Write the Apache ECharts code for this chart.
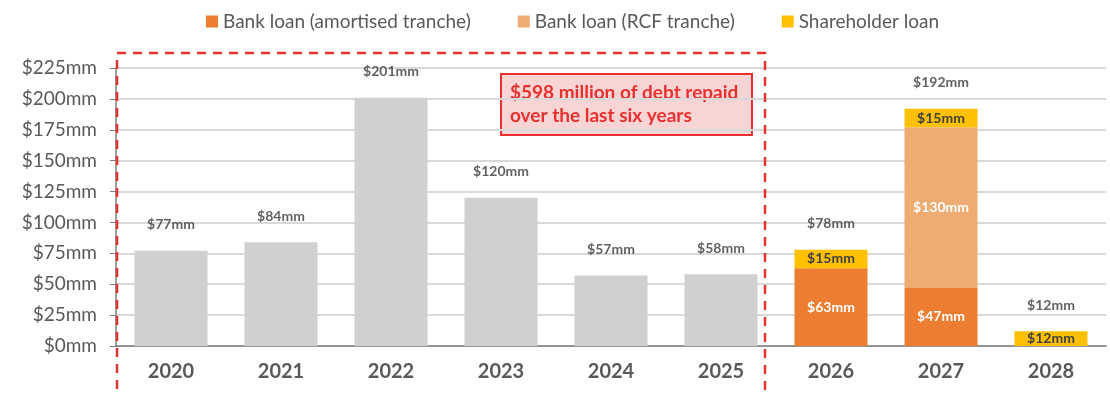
<!DOCTYPE html>
<html>
<head>
<meta charset="utf-8">
<script src="https://cdn.jsdelivr.net/npm/echarts@6/dist/echarts.min.js"></script>
<style>
  html, body { margin: 0; padding: 0; background: #fff; }
  #chart { width: 1110px; height: 395px; }
</style>
</head>
<body>
<div id="chart"></div>
<script>
// Debt repayments by year: historical totals and scheduled maturities ($mm)
const years = ['2020', '2021', '2022', '2023', '2024', '2025', '2026', '2027', '2028'];
const repaid = [77, 84, 201, 120, 57, 58, null, null, null];
const amortised = [null, null, null, null, null, null, 63, 47, null];
const rcf = [null, null, null, null, null, null, null, 130, null];
const shareholder = [null, null, null, null, null, null, 15, 15, 12];
const totals = [77, 84, 201, 120, 57, 58, 78, 192, 12];
const yTicks = [0, 25, 50, 75, 100, 125, 150, 175, 200, 225];

const FONT = 'Lato, "Noto Sans", sans-serif';
const fmt = v => '$' + v + 'mm';

const chart = echarts.init(document.getElementById('chart'));

const insideLabel = color => ({
  show: true,
  position: 'inside',
  color: color,
  fontFamily: FONT,
  fontSize: 14,
  fontWeight: 'bold',
  formatter: p => fmt(p.value)
});

chart.setOption({
  animation: false,
  textStyle: { fontFamily: FONT },
  legend: {
    top: 7,
    left: 201,
    itemWidth: 12,
    itemHeight: 12,
    itemGap: 47,
    icon: 'rect',
    textStyle: { color: '#595959', fontSize: 19, fontFamily: FONT },
    data: ['Bank loan (amortised tranche)', 'Bank loan (RCF tranche)', 'Shareholder loan']
  },
  grid: { left: 116, right: 4, top: 68, bottom: 49 },
  xAxis: {
    type: 'category',
    data: years,
    axisLine: { lineStyle: { color: '#7f7f7f', width: 1.5 } },
    axisTick: { show: false },
    axisLabel: {
      color: '#595959',
      fontSize: 20,
      fontWeight: 'bold',
      margin: 16,
      fontFamily: FONT
    }
  },
  yAxis: {
    type: 'value',
    min: yTicks[0],
    max: yTicks[yTicks.length - 1],
    interval: 25,
    axisLine: { show: true, lineStyle: { color: '#7f7f7f', width: 1.5 } },
    axisTick: { show: true, length: 6, lineStyle: { color: '#7f7f7f' } },
    axisLabel: {
      color: '#595959',
      fontSize: 19,
      margin: 19,
      fontFamily: FONT,
      formatter: v => fmt(v)
    },
    splitLine: { lineStyle: { color: '#d9d9d9', width: 2 } }
  },
  series: [
    {
      name: 'Repaid',
      type: 'bar',
      stack: 'debt',
      barWidth: 73,
      data: repaid,
      itemStyle: { color: '#d0d0d0' }
    },
    {
      name: 'Bank loan (amortised tranche)',
      type: 'bar',
      stack: 'debt',
      barWidth: 73,
      data: amortised,
      itemStyle: { color: '#ed7d31' },
      label: insideLabel('#ffffff')
    },
    {
      name: 'Bank loan (RCF tranche)',
      type: 'bar',
      stack: 'debt',
      barWidth: 73,
      data: rcf,
      itemStyle: { color: '#eeab72' },
      label: insideLabel('#ffffff')
    },
    {
      name: 'Shareholder loan',
      type: 'bar',
      stack: 'debt',
      barWidth: 73,
      data: shareholder,
      itemStyle: { color: '#ffc000' },
      label: insideLabel('#404040')
    },
    {
      name: 'Total',
      type: 'scatter',
      symbolSize: 0,
      data: totals,
      silent: true,
      label: {
        show: true,
        position: 'top',
        distance: 19,
        color: '#3a3a3a',
        fontSize: 14,
        fontWeight: 'bold',
        fontFamily: FONT,
        formatter: p => fmt(p.value)
      }
    }
  ],
  graphic: [
    {
      // Dashed frame around the historical repayment years
      type: 'rect',
      z: 100,
      shape: { x: 117, y: 53, width: 648, height: 360 },
      style: { fill: 'none', stroke: '#e8312f', lineWidth: 2.5, lineDash: [9, 7] }
    },
    {
      type: 'group',
      left: 500,
      top: 73,
      z: 110,
      children: [
        {
          type: 'rect',
          shape: { x: 0, y: 0, width: 251, height: 61 },
          style: { fill: '#f9d4d4', stroke: '#e8312f', lineWidth: 2 }
        },
        {
          type: 'text',
          x: 9,
          y: 7,
          style: {
            text: '$598 million of debt repaid\nover the last six years',
            fill: '#e8312f',
            font: 'bold 19px ' + FONT,
            lineHeight: 23
          }
        }
      ]
    }
  ]
});
</script>
</body>
</html>
